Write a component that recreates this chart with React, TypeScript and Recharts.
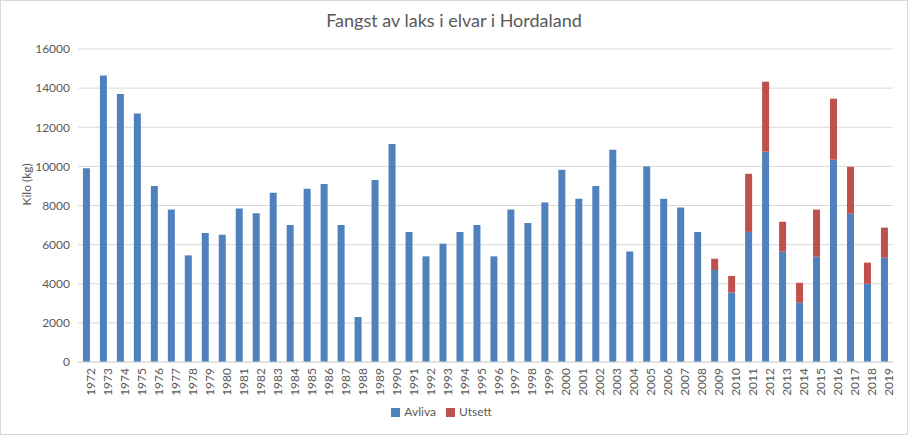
import React from 'react';
import { BarChart, Bar, XAxis, YAxis, CartesianGrid, Legend } from 'recharts';

const years = [
  '1972', '1973', '1974', '1975', '1976', '1977', '1978', '1979', '1980', '1981',
  '1982', '1983', '1984', '1985', '1986', '1987', '1988', '1989', '1990', '1991',
  '1992', '1993', '1994', '1995', '1996', '1997', '1998', '1999', '2000', '2001',
  '2002', '2003', '2004', '2005', '2006', '2007', '2008', '2009', '2010', '2011',
  '2012', '2013', '2014', '2015', '2016', '2017', '2018', '2019',
];

const avliva = [
  9900, 14650, 13700, 12700, 9000, 7800, 5450, 6600, 6500, 7850,
  7600, 8650, 7000, 8850, 9100, 7000, 2300, 9300, 11150, 6650,
  5400, 6050, 6650, 7000, 5400, 7800, 7100, 8150, 9830, 8350,
  9000, 10850, 5650, 10000, 8350, 7900, 6650, 4700, 3550, 6650,
  10750, 5640, 3030, 5380, 10340, 7580, 4000, 5330,
];

const utsett = [
  0, 0, 0, 0, 0, 0, 0, 0, 0, 0,
  0, 0, 0, 0, 0, 0, 0, 0, 0, 0,
  0, 0, 0, 0, 0, 0, 0, 0, 0, 0,
  0, 0, 0, 0, 0, 0, 0, 580, 850, 2970,
  3580, 1530, 1020, 2410, 3120, 2400, 1080, 1540,
];

const yTicks = [0, 2000, 4000, 6000, 8000, 10000, 12000, 14000, 16000];

const data = years.map((year, i) => ({ year, avliva: avliva[i], utsett: utsett[i] }));

const FONT = 'Lato, "Open Sans", sans-serif';
const TEXT = '#595959';

export default function App() {
  return (
    <div style={{ position: 'absolute', left: 0, top: 0, width: 908, height: 435, background: '#fff', fontFamily: FONT }}>
      <div
        style={{
          position: 'absolute', left: 0, top: 0, width: 906, height: 433,
          border: '1px solid #d9d9d9', pointerEvents: 'none',
        }}
      />
      <div
        style={{
          position: 'absolute', left: 0, top: 9, width: 908, textAlign: 'center',
          fontSize: 18, color: TEXT, fontFamily: FONT,
        }}
      >
        Fangst av laks i elvar i Hordaland
      </div>
      <BarChart
        width={908}
        height={435}
        data={data}
        margin={{ top: 49, right: 15, left: 0, bottom: 16 }}
        barCategoryGap="29%"
      >
        <CartesianGrid vertical={false} stroke="#d9d9d9" />
        <XAxis
          dataKey="year"
          interval={0}
          angle={-90}
          textAnchor="end"
          height={42}
          tickLine={false}
          tickMargin={4}
          axisLine={{ stroke: '#d9d9d9' }}
          tick={{ fill: TEXT, fontSize: 12, fontFamily: FONT, dy: -4 }}
        />
        <YAxis
          width={78}
          domain={[0, 16000]}
          ticks={yTicks}
          axisLine={false}
          tickLine={false}
          tick={{ fill: TEXT, fontSize: 12, fontFamily: FONT }}
          label={{ value: 'Kilo (kg)', angle: -90, position: 'insideLeft', offset: 27, fill: TEXT, fontSize: 12, fontFamily: FONT }}
        />
        <Legend
          verticalAlign="bottom"
          align="center"
          iconType="square"
          iconSize={9}
          wrapperStyle={{ fontSize: 12, fontFamily: FONT, color: TEXT }}
          formatter={(value) => <span style={{ color: TEXT }}>{value}</span>}
        />
        <Bar dataKey="avliva" name="Avliva" stackId="a" fill="#4f81bd" isAnimationActive={false} />
        <Bar dataKey="utsett" name="Utsett" stackId="a" fill="#c0504d" isAnimationActive={false} />
      </BarChart>
    </div>
  );
}
